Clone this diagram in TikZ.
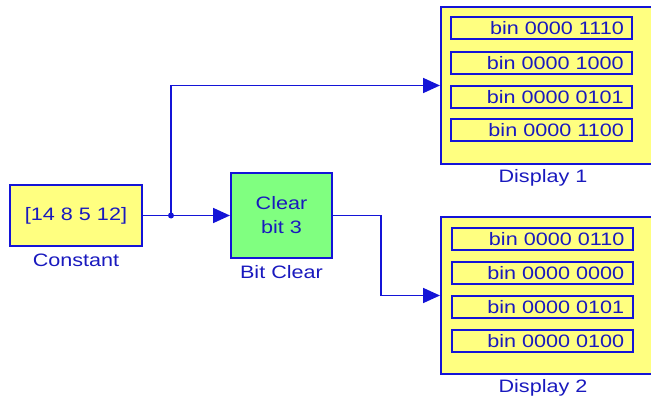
\documentclass[tikz,border=0pt]{standalone}
\usepackage{fontspec}
\setmainfont{Liberation Sans}[FakeStretch=1.2]
\usetikzlibrary{arrows.meta}
\definecolor{lblue}{RGB}{20,20,215}
\definecolor{tblue}{RGB}{25,25,190}
\definecolor{byellow}{RGB}{255,255,128}
\definecolor{bgreen}{RGB}{128,255,128}
\tikzset{
  blk/.style={draw=lblue, line width=2pt, inner sep=0pt, text=tblue, align=center, font=\fontsize{18}{24}\selectfont},
  row/.style={draw=lblue, line width=2pt, inner sep=0pt, minimum width=181pt, minimum height=22pt},
  rowtxt/.style={text=tblue, inner sep=0pt, anchor=east, font=\fontsize{18}{20}\selectfont},
  lbl/.style={text=tblue, inner sep=0pt, font=\fontsize{18}{20}\selectfont},
  wire/.style={draw=lblue, line width=1.8pt},
  arr/.style={wire, -{Triangle[length=17pt,width=15pt]}}
}
\begin{document}
\begin{tikzpicture}[x=1pt,y=-1pt]
\useasboundingbox (0,0) rectangle (651,401);
% Constant
\node[blk, fill=byellow, minimum width=132pt, minimum height=61pt] (const) at (76,215.5) {[14 8 5 12]};
\node[lbl] (constl) at (76,260) {Constant};
% Bit Clear
\node[blk, fill=bgreen, minimum width=101pt, minimum height=85pt] (bc) at (281.5,215.5) {Clear\\bit 3};
\node[lbl] (bcl) at (281.5,272) {Bit Clear};
% Display 1
\node[blk, fill=byellow, minimum width=214pt, minimum height=157pt] (d1) at (548,85.5) {};
\node[lbl] (d1l) at (543,178) {Display 1};
\node[row] (r11) at (541.5,28.5) {};
\node[row] (r12) at (541.5,63) {};
\node[row] (r13) at (541.5,97) {};
\node[row] (r14) at (541.5,130.5) {};
\node[rowtxt] (t11) at ([xshift=-9pt]r11.east) {bin 0000 1110};
\node[rowtxt] (t12) at ([xshift=-9pt]r12.east) {bin 0000 1000};
\node[rowtxt] (t13) at ([xshift=-9pt]r13.east) {bin 0000 0101};
\node[rowtxt] (t14) at ([xshift=-9pt]r14.east) {bin 0000 1100};
% Display 2
\node[blk, fill=byellow, minimum width=214pt, minimum height=157pt] (d2) at (548,295.5) {};
\node[lbl] (d2l) at (543,388) {Display 2};
\node[row] (r21) at (542,239) {};
\node[row] (r22) at (542,273) {};
\node[row] (r23) at (542,307) {};
\node[row] (r24) at (542,341) {};
\node[rowtxt] (t21) at ([xshift=-9pt]r21.east) {bin 0000 0110};
\node[rowtxt] (t22) at ([xshift=-9pt]r22.east) {bin 0000 0000};
\node[rowtxt] (t23) at ([xshift=-9pt]r23.east) {bin 0000 0101};
\node[rowtxt] (t24) at ([xshift=-9pt]r24.east) {bin 0000 0100};
% wires
\coordinate (j) at (171,215.5);
\coordinate (up) at (171,85.5);
\coordinate (c1) at (381,215.5);
\coordinate (c2) at (381,295.5);
\draw[wire] (const.east) -- (j);
\draw[arr] (j) -- (bc.west);
\draw[arr] (j) -- (up) -- (d1.west);
\draw[arr] (bc.east) -- (c1) -- (c2) -- (d2.west);
\fill[lblue] (j) circle (3pt);
\end{tikzpicture}
\end{document}
